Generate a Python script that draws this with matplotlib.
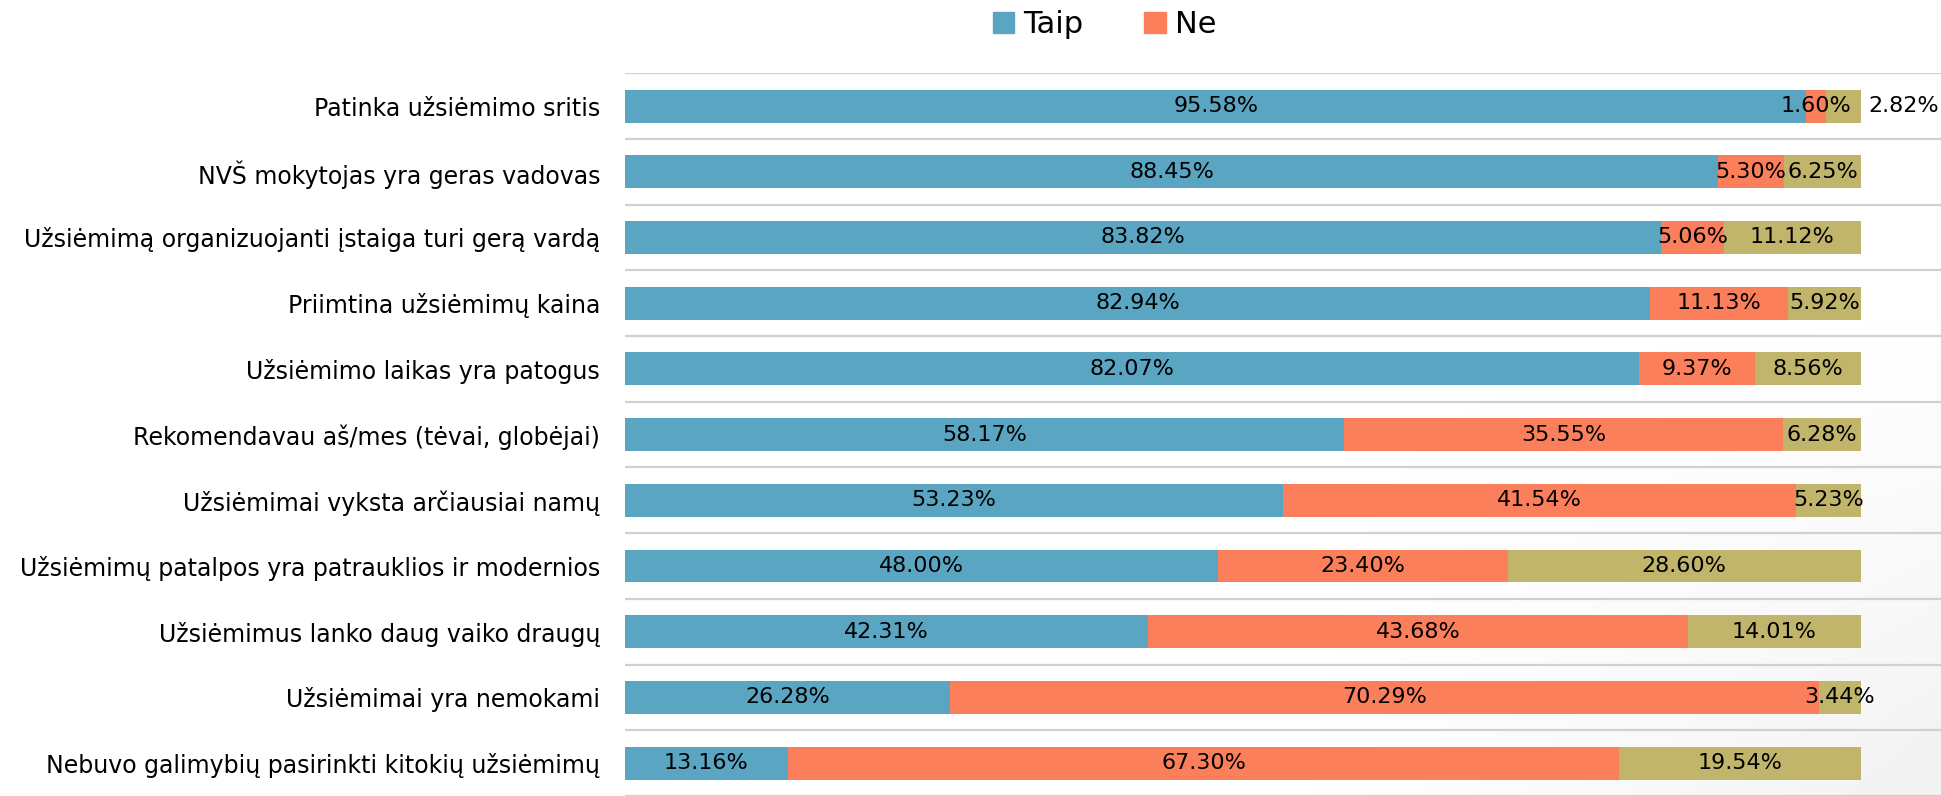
import matplotlib
matplotlib.use("Agg")
import matplotlib.pyplot as plt
import numpy as np
from matplotlib.patches import Patch

categories = [
    "Patinka užsiėmimo sritis",
    "NVŠ mokytojas yra geras vadovas",
    "Užsiėmimą organizuojanti įstaiga turi gerą vardą",
    "Priimtina užsiėmimų kaina",
    "Užsiėmimo laikas yra patogus",
    "Rekomendavau aš/mes (tėvai, globėjai)",
    "Užsiėmimai vyksta arčiausiai namų",
    "Užsiėmimų patalpos yra patrauklios ir modernios",
    "Užsiėmimus lanko daug vaiko draugų",
    "Užsiėmimai yra nemokami",
    "Nebuvo galimybių pasirinkti kitokių užsiėmimų",
]
taip = [95.58, 88.45, 83.82, 82.94, 82.07, 58.17, 53.23, 48.00, 42.31, 26.28, 13.16]
ne = [1.60, 5.30, 5.06, 11.13, 9.37, 35.55, 41.54, 23.40, 43.68, 70.29, 67.30]
other = [2.82, 6.25, 11.12, 5.92, 8.56, 6.28, 5.23, 28.60, 14.01, 3.44, 19.54]
series_names = ["Taip", "Ne"]

c_taip = "#5AA5C1"
c_ne = "#FC7F5C"
c_oth = "#C1B56C"

fig = plt.figure(figsize=(19.41, 7.96), dpi=100)

# subtle background gradient (bottom-right light gray)
bg = fig.add_axes([0, 0, 1, 1], zorder=-10)
yy, xx = np.mgrid[0:1:200j, 0:1:400j]
d = np.clip((xx - 0.65) / 0.35, 0, 1) * np.clip((0.65 - yy) / 0.65, 0, 1)
img = 1 - 0.05 * d
bg.imshow(img, cmap="gray", vmin=0, vmax=1, extent=[0, 1, 0, 1], aspect="auto", origin="lower")
bg.axis("off")

ax = fig.add_axes([625 / 1941, 0.0, 1 - 625 / 1941, 0.908])
ax.patch.set_alpha(0)
n = len(categories)
y = np.arange(n)
h = 0.5
t = np.array(taip); nn = np.array(ne); o = np.array(other)
ax.barh(y, t, height=h, color=c_taip, edgecolor="none")
ax.barh(y, nn, left=t, height=h, color=c_ne, edgecolor="none")
ax.barh(y, o, left=t + nn, height=h, color=c_oth, edgecolor="none")

fs = 16
for i in range(n):
    ax.text(t[i] / 2, y[i], f"{t[i]:.2f}%", ha="center", va="center", fontsize=fs)
    ax.text(t[i] + nn[i] / 2, y[i], f"{nn[i]:.2f}%", ha="center", va="center", fontsize=fs)
    if i == 0:
        ax.text(t[i] + nn[i] + o[i] + 0.6, y[i], f"{o[i]:.2f}%", ha="left", va="center", fontsize=fs)
    else:
        ax.text(t[i] + nn[i] + o[i] / 2, y[i], f"{o[i]:.2f}%", ha="center", va="center", fontsize=fs)

for b in np.arange(-0.5, n + 0.5, 1):
    ax.axhline(b, color="#d0d0d0", lw=1.6, zorder=0)

ax.set_xlim(0, 1316 / 12.36)
ax.set_ylim(n - 0.5, -0.5)
ax.set_yticks(y)
ax.set_yticklabels(categories, fontsize=17)
ax.tick_params(axis="y", length=0, pad=18)
ax.set_xticks([])
for s in ax.spines.values():
    s.set_visible(False)

handles = [Patch(color=c_taip, label="Taip"), Patch(color=c_ne, label="Ne")]
fig.legend(handles=handles, loc="center", bbox_to_anchor=(0.569, 0.969), ncol=2,
           frameon=False, fontsize=22, handlelength=0.7, handleheight=0.7,
           handletextpad=0.3, columnspacing=2.0)

fig.savefig("out.png", dpi=100)
